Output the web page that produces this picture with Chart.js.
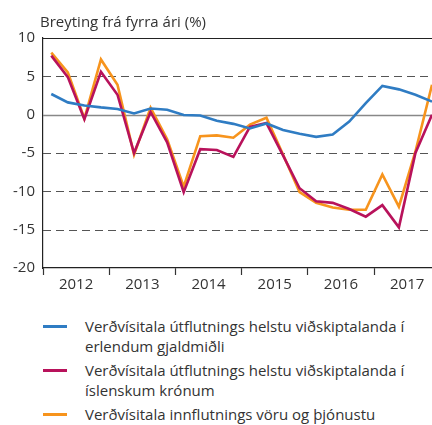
<!DOCTYPE html>
<html>
<head>
<meta charset="utf-8">
<script src="https://cdn.jsdelivr.net/npm/chart.js@4/dist/chart.umd.min.js"></script>
<style>
  body { margin: 0; background: #fff; width: 432px; height: 425px; overflow: hidden; font-family: "Open Sans", sans-serif; color: #333; }
  #wrap { position: relative; width: 432px; height: 300px; }
  #legend { position: absolute; left: 0; top: 316px; width: 432px; }
  .item { position: relative; padding-left: 85px; font-size: 15px; line-height: 20px; margin-bottom: 4px; }
  .swatch { position: absolute; left: 43px; top: 9px; width: 24px; height: 3px; }
</style>
</head>
<body>
<div id="wrap"><canvas id="myChart" width="432" height="300"></canvas></div>
<div id="legend"></div>
<script>
const years = ['2012', '2013', '2014', '2015', '2016', '2017'];
const yTicks = [-20, -15, -10, -5, 0, 5, 10];
const seriesNames = [
    ['Verðvísitala útflutnings helstu viðskiptalanda í', 'erlendum gjaldmiðli'],
    ['Verðvísitala útflutnings helstu viðskiptalanda í', 'íslenskum krónum'],
    ['Verðvísitala innflutnings vöru og þjónustu']
];
const colors = ['#2f7cc3', '#b8125b', '#f7941d'];

// quarterly, 2012 Q1 .. 2017 Q4
const foreignCurrency = [2.7, 1.6, 1.2, 0.95, 0.75, 0.15, 0.8, 0.65, -0.05, -0.1, -0.8, -1.2,
    -1.8, -1.15, -2.0, -2.5, -2.9, -2.6, -0.9, 1.5, 3.75, 3.3, 2.6, 1.7];
const kronur = [7.7, 4.9, -0.6, 5.6, 2.6, -5.0, 0.35, -3.6, -10.1, -4.5, -4.6, -5.5,
    -1.6, -1.1, -5.3, -9.6, -11.3, -11.5, -12.3, -13.3, -11.8, -14.7, -5.0, 0.0];
const imports = [8.1, 5.5, -0.5, 7.2, 3.9, -5.2, 0.9, -3.2, -9.4, -2.8, -2.7, -3.0,
    -1.3, -0.4, -5.2, -10.1, -11.5, -12.1, -12.4, -12.4, -7.8, -12.0, -4.8, 3.9];

const toPoints = arr => arr.map((v, i) => ({ x: i + 0.5, y: v }));
const font = { family: '"Open Sans", sans-serif', size: 15 };

// y grid: solid at top/zero, dashed elsewhere
const gridPlugin = {
    id: 'gridLines',
    beforeDatasetsDraw(chart) {
        const { ctx, chartArea, scales } = chart;
        ctx.save();
        yTicks.forEach(v => {
            if (v === -20) return;
            const y = Math.round(scales.y.getPixelForValue(v)) + 0.5;
            ctx.beginPath();
            if (v === 10) { ctx.strokeStyle = '#222'; ctx.lineWidth = 1.2; ctx.setLineDash([]); }
            else if (v === 0) { ctx.strokeStyle = '#888'; ctx.lineWidth = 1.5; ctx.setLineDash([]); }
            else { ctx.strokeStyle = '#555'; ctx.lineWidth = 1.2; ctx.setLineDash([8, 5]); }
            ctx.moveTo(chartArea.left, y);
            ctx.lineTo(chartArea.right, y);
            ctx.stroke();
        });
        ctx.restore();
    },
    afterDraw(chart) {
        const { ctx, chartArea } = chart;
        ctx.save();
        ctx.fillStyle = '#333';
        ctx.font = '15px "Open Sans", sans-serif';
        ctx.textBaseline = 'alphabetic';
        ctx.fillText('Breyting frá fyrra ári (%)', chartArea.left - 3, 27);
        ctx.restore();
    }
};

const ctx = document.getElementById('myChart').getContext('2d');
new Chart(ctx, {
    type: 'line',
    data: {
        datasets: [foreignCurrency, kronur, imports].map((d, i) => ({
            label: seriesNames[i].join(' '),
            data: toPoints(d),
            borderColor: colors[i],
            borderWidth: 2.6,
            pointRadius: 0,
            tension: 0,
            clip: false
        }))
    },
    options: {
        responsive: false,
        animation: false,
        layout: { padding: { top: 38, right: 0, left: 0, bottom: 0 } },
        plugins: { legend: { display: false }, tooltip: { enabled: false } },
        scales: {
            x: {
                type: 'linear',
                min: 0,
                max: 23.5,
                afterBuildTicks: scale => {
                    scale.ticks = [];
                    for (let v = 0; v <= 22; v += 2) scale.ticks.push({ value: v });
                },
                afterFit: scale => { scale.height = 32; },
                ticks: {
                    autoSkip: false,
                    maxRotation: 0,
                    padding: 1,
                    color: '#333',
                    font: font,
                    callback: v => (v % 4 === 2 ? years[(v - 2) / 4] : '')
                },
                grid: {
                    drawOnChartArea: false,
                    drawTicks: true,
                    tickLength: 7,
                    tickWidth: 1.2,
                    tickColor: c => (c.tick && c.tick.value % 4 === 0 ? '#333' : 'rgba(0,0,0,0)')
                },
                border: { color: '#222', width: 1.2 }
            },
            y: {
                min: -20,
                max: 10,
                afterBuildTicks: scale => { scale.ticks = yTicks.map(v => ({ value: v })); },
                afterFit: scale => { scale.width = 43; },
                ticks: { padding: 8, color: '#333', font: font },
                grid: { display: false, drawTicks: false },
                border: { color: '#222', width: 1.2 }
            }
        }
    },
    plugins: [gridPlugin]
});

// legend
const legend = document.getElementById('legend');
seriesNames.forEach((lines, i) => {
    const item = document.createElement('div');
    item.className = 'item';
    const sw = document.createElement('span');
    sw.className = 'swatch';
    sw.style.background = colors[i];
    item.appendChild(sw);
    lines.forEach((t, j) => {
        if (j) item.appendChild(document.createElement('br'));
        item.appendChild(document.createTextNode(t));
    });
    legend.appendChild(item);
});
</script>
</body>
</html>
